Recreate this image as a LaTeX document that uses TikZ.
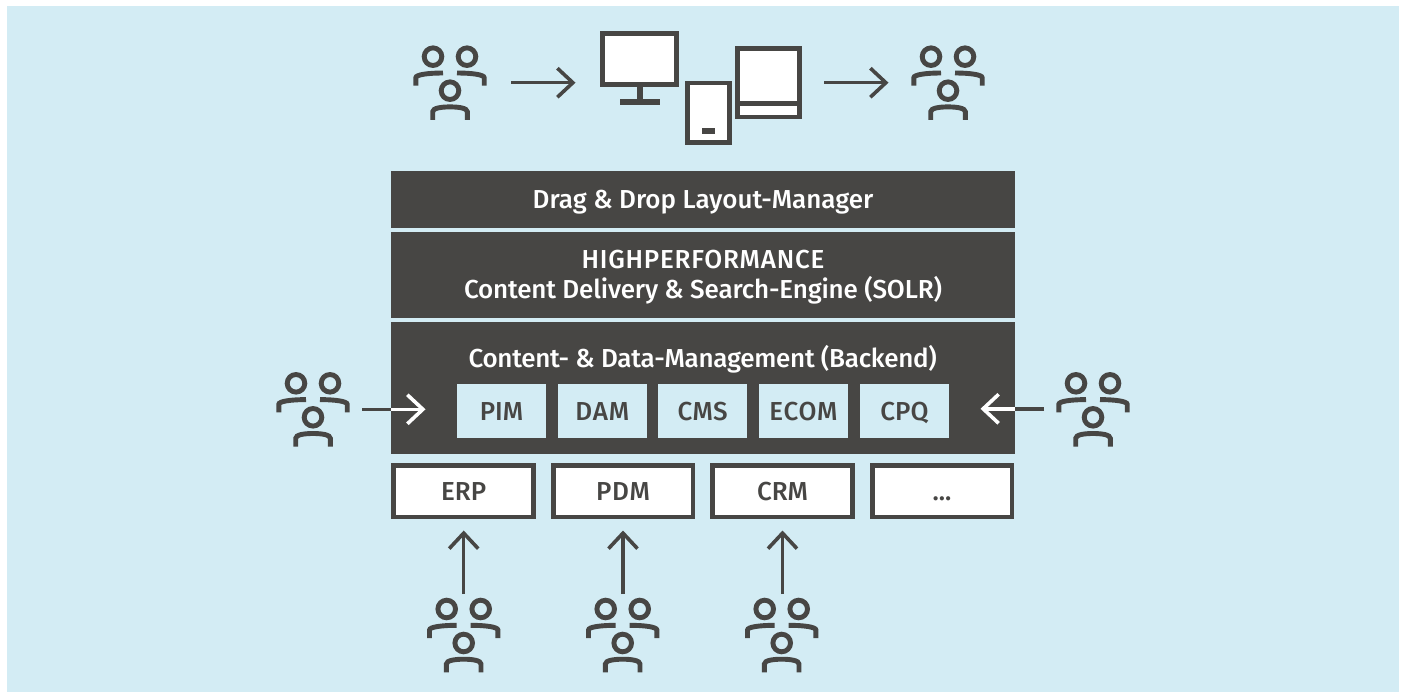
\documentclass[tikz,border=0pt]{standalone}
\usepackage{fontspec}
\setmainfont{Fira Sans Medium}
\usetikzlibrary{arrows.meta}
\definecolor{ink}{HTML}{474644}
\definecolor{panel}{HTML}{D3ECF4}
\newcommand{\spaced}[2]{{\addfontfeature{LetterSpace=#1}#2}}
\tikzset{
  x=1pt,y=-1pt,
  bar/.style={fill=ink,draw=none,text=white,minimum width=624pt,inner sep=0pt,outer sep=0pt,align=center},
  bartext/.style={text=white,inner sep=0pt,font=\fontsize{26}{30}\selectfont,align=center},
  module/.style={fill=panel,draw=none,text=ink,minimum width=89pt,minimum height=54pt,inner sep=0pt,font=\fontsize{26}{30}\selectfont,text height=18pt,text depth=0pt},
  source/.style={fill=white,draw=ink,line width=4.8pt,text=ink,minimum width=139.8pt,minimum height=51.8pt,inner sep=0pt,font=\fontsize{26}{30}\selectfont,text height=18pt,text depth=0pt},
  device/.style={fill=white,draw=ink,line width=4.8pt,inner sep=0pt},
  flow/.style={draw=ink,line width=3.4pt},
  flowhead/.style={-{Straight Barb[length=15.5pt,width=29pt,line width=3.6pt]}},
  people/.pic={
    \draw[ink,line width=4.9pt]
      (0,0) circle[radius=8.8pt]
      (34,0) circle[radius=8.8pt]
      (17,34) circle[radius=8.8pt]
      (-17.2,29) -- (-17.2,21) .. controls (-17.2,18) and (-5,16.3) .. (10,16.3)
      (51.2,29) -- (51.2,21) .. controls (51.2,18) and (39,16.3) .. (24,16.3)
      (-0.3,63.3) -- (-0.3,55) .. controls (-0.3,51.5) and (8,50.2) .. (17,50.2)
        .. controls (26,50.2) and (34.3,51.5) .. (34.3,55) -- (34.3,63.3);
  },
}
\begin{document}
\begin{tikzpicture}
\useasboundingbox (0,0) rectangle (1402,692);
\fill[panel] (7,6) rectangle (1399,692);

% devices
\node[device,minimum width=74.2pt,minimum height=51pt] (monitor) at (639.5,58.8) {};
\coordinate (standfoot) at (640,102.2);
\coordinate (baseL) at (620,102.2);
\coordinate (baseR) at (660,102.2);
\draw[ink,line width=5.2pt] (monitor.south -| standfoot) -- (standfoot);
\draw[ink,line width=5.4pt] (baseL) -- (baseR);
\node[device,minimum width=42.2pt,minimum height=59.8pt] (tablet) at (708.5,113) {};
\node[fill=ink,minimum width=12.4pt,minimum height=5.4pt,inner sep=0pt] (tabletbtn) at (708.5,131) {};
\node[device,minimum width=61.6pt,minimum height=68.6pt] (laptop) at (768.5,82.7) {};
\coordinate (hingeY) at (768.5,103.4);
\draw[ink,line width=5.2pt] (laptop.west |- hingeY) -- (laptop.east |- hingeY);

% people
\pic at (433,56.7) {people};
\pic at (931,56.7) {people};
\pic at (296,383.3) {people};
\pic at (1076,383.3) {people};
\pic at (446.7,609) {people};
\pic at (605.7,609) {people};
\pic at (764.7,609) {people};

% stack
\node[bar,minimum height=57pt] (layout) at (703,199.5) {};
\node[bartext] (layouttext) at (703,202) {Drag \& Drop Layout-Manager};
\node[bar,minimum height=86pt] (search) at (703,275) {};
\node[bartext] (searchtext) at (703,277) {\spaced{3}{HIGHPERFORMANCE}\\\spaced{-0.6}{Content Delivery \& Search-Engine (SOLR)}};
\node[bar,minimum height=132pt] (backend) at (703,388) {};
\node[bartext] (backendtext) at (702.7,359) {\spaced{-1}{Content- \& Data-Management (Backend)}};

\node[module] (pim) at (501.5,411) {PIM};
\node[module] (dam) at (602.3,411) {\spaced{3}{DAM}};
\node[module] (cms) at (702.6,411) {\spaced{1.5}{CMS}};
\node[module] (ecom) at (803.5,411) {\spaced{3}{ECOM}};
\node[module] (cpq) at (904.5,411) {CPQ};

\node[source] (erp) at (463.7,491) {ERP};
\node[source] (pdm) at (623,491) {\spaced{3}{PDM}};
\node[source] (crm) at (782.5,491) {CRM};
\node[source] (more) at (942,491) {...};

% arrows
\coordinate (a1s) at (511,82.7); \coordinate (a1e) at (575.5,82.7);
\coordinate (a2s) at (824,82.7); \coordinate (a2e) at (888.5,82.7);
\draw[flow,flowhead] (a1s) -- (a1e);
\draw[flow,flowhead] (a2s) -- (a2e);

\coordinate (lefts) at (362,409.3); \coordinate (lefte) at (425.5,409.3);
\draw[flow] (lefts) -- (backend.west |- lefts);
\draw[flow,white,flowhead] (backend.west |- lefts) -- (lefte);
\coordinate (rights) at (1044,408.8); \coordinate (righte) at (980.5,408.8);
\draw[flow] (rights) -- (backend.east |- rights);
\draw[flow,white,flowhead] (backend.east |- rights) -- (righte);

\coordinate (u1) at (463.7,594); \coordinate (u2) at (623,594); \coordinate (u3) at (782.5,594);
\coordinate (t1) at (463.7,530.5); \coordinate (t2) at (623,530.5); \coordinate (t3) at (782.5,530.5);
\draw[flow,flowhead] (u1) -- (t1);
\draw[flow,flowhead] (u2) -- (t2);
\draw[flow,flowhead] (u3) -- (t3);
\end{tikzpicture}
\end{document}
